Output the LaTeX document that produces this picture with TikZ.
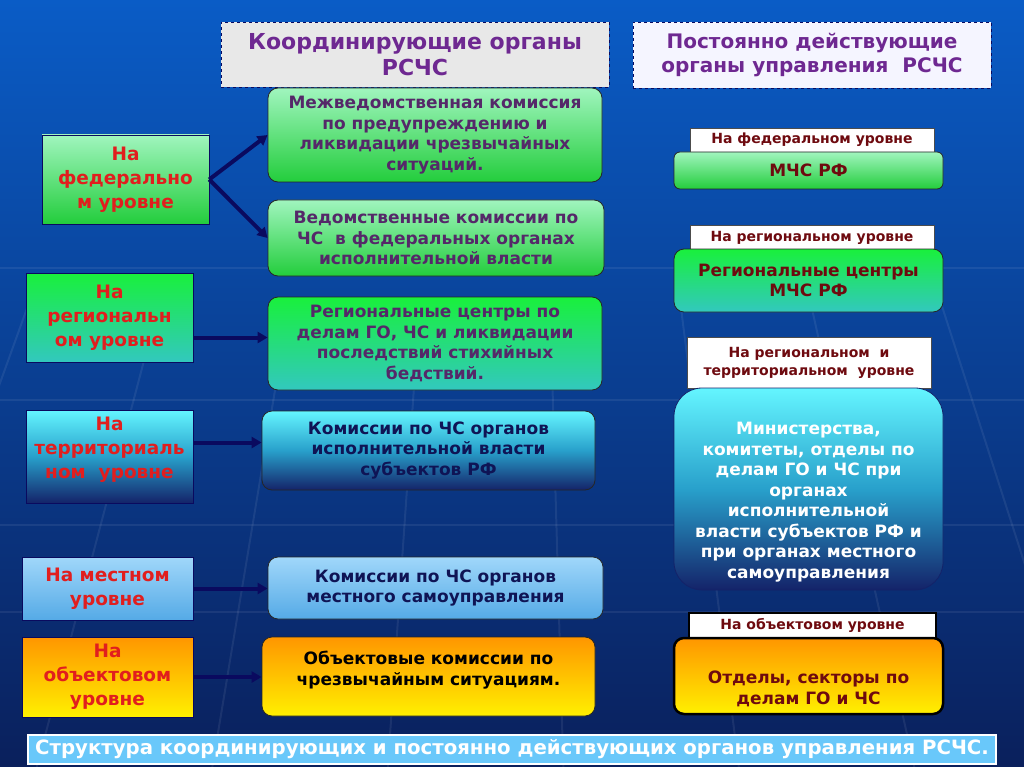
\documentclass[tikz,border=0pt]{standalone}
\usepackage{fontspec}
\setmainfont{DejaVu Sans}
\usetikzlibrary{arrows.meta}
\definecolor{lvlred}{RGB}{225,30,30}
\definecolor{orgpurple}{RGB}{85,40,105}
\definecolor{navytext}{RGB}{15,20,85}
\definecolor{tagred}{RGB}{110,10,15}
\definecolor{headpurple}{RGB}{110,40,145}
\definecolor{arrowblue}{RGB}{10,10,95}
\definecolor{mint}{RGB}{160,245,190}
\definecolor{leaf}{RGB}{35,205,60}
\definecolor{lime}{RGB}{25,240,60}
\definecolor{teal}{RGB}{50,200,190}
\definecolor{aqua}{RGB}{100,245,255}
\definecolor{deepblue}{RGB}{20,35,105}
\definecolor{skyA}{RGB}{160,215,250}
\definecolor{skyB}{RGB}{85,170,230}
\definecolor{amber}{RGB}{255,150,0}
\definecolor{sun}{RGB}{255,240,0}
\definecolor{banner}{RGB}{105,200,250}

\begin{document}
\begin{tikzpicture}[x=1pt, y=-1pt,
    level/.style={draw=arrowblue, thin, align=center, text=lvlred, inner sep=1pt,
                  font=\fontsize{18.5}{24}\selectfont\bfseries},
    organ/.style={draw=black!85, thick, rounded corners=10pt, align=center, inner sep=2pt,
                  font=\fontsize{17}{20.5}\selectfont\bfseries},
    tag/.style={draw=black!70, fill=white, align=center, text=tagred, inner sep=1pt,
                font=\fontsize{14}{18}\selectfont\bfseries},
    head/.style={draw=arrowblue, dashed, align=center, text=headpurple,
                 font=\fontsize{22}{26}\selectfont\bfseries},
    greenish/.style={top color=mint, bottom color=leaf},
    limeteal/.style={top color=lime, bottom color=teal},
    aquadeep/.style={top color=aqua, bottom color=deepblue, middle color=teal!80!blue},
    skyish/.style={top color=skyA, bottom color=skyB},
    sunny/.style={top color=amber, bottom color=sun},
    link/.style={-{Triangle[length=10pt,width=11pt]}, line width=4pt, color=arrowblue}
]
\useasboundingbox (0,0) rectangle (1024,767);
% background
\shade[top color={rgb,255:red,10;green,92;blue,198}, middle color={rgb,255:red,12;green,72;blue,165},
       bottom color={rgb,255:red,10;green,32;blue,92}] (0,0) rectangle (1024,767);
\begin{scope}
\clip (0,0) rectangle (1024,767);
\foreach \gy in {268,400,525,612}
  \draw[white, opacity=0.07, line width=2pt] (0,\gy) -- (1024,\gy);
\foreach \gx in {30,160,290,420,550,680,810,940}
  \draw[white, opacity=0.07, line width=2pt] (\gx,300) -- ({\gx+(\gx-512)*0.35},767);
\end{scope}

% headers
\node[head, fill=gray!18, minimum width=388, minimum height=65] (hcoord) at (415,54.5)
  {Координирующие органы\\РСЧС};
\node[head, fill=blue!4, minimum width=358, minimum height=66,
      font=\fontsize{20}{24}\selectfont\bfseries] (hperm) at (812,55)
  {Постоянно действующие\\органы управления~~РСЧС};

% levels
\node[level, greenish, minimum width=167, minimum height=89] (fed) at (125.5,179.5)
  {На\\федерально\\м уровне};
\node[level, limeteal, minimum width=167, minimum height=89] (reg) at (109.5,317.5)
  {На\\региональн\\ом уровне};
\node[level, aquadeep, minimum width=167, minimum height=93] (ter) at (109.5,456.5)
  {На\\территориаль\\ном~~уровне\\[-6pt]\mbox{}};
\node[level, skyish, minimum width=171, minimum height=63] (loc) at (107.5,588.5)
  {На местном\\уровне};
\node[level, sunny, minimum width=171, minimum height=80] (obj) at (107.5,677)
  {На\\объектовом\\уровне};

% coordinating bodies
\node[organ, greenish, text=orgpurple, minimum width=334, minimum height=94] (mvk) at (435,135)
  {Межведомственная комиссия\\по предупреждению и\\ликвидации чрезвычайных\\ситуаций.};
\node[organ, greenish, text=orgpurple, minimum width=336, minimum height=76] (vk) at (436,238)
  {Ведомственные комиссии по\\ЧС~~в федеральных органах\\исполнительной власти};
\node[organ, limeteal, text=orgpurple, minimum width=334, minimum height=93] (rc) at (435,343.5)
  {Региональные центры по\\делам ГО, ЧС и ликвидации\\последствий стихийных\\бедствий.};
\node[organ, aquadeep, text=navytext, minimum width=333, minimum height=79] (kse) at (428.5,450.5)
  {Комиссии по ЧС органов\\исполнительной власти\\субъектов РФ};
\node[organ, skyish, text=navytext, minimum width=335, minimum height=62] (ksm) at (435.5,588)
  {Комиссии по ЧС органов\\местного самоуправления};
\node[organ, sunny, text=black, minimum width=333, minimum height=79] (oks) at (428.5,676.5)
  {Объектовые комиссии по\\чрезвычайным ситуациям.\\[-4pt]\mbox{}};

\draw[link] (fed.east) -- (mvk.west);
\draw[link] (fed.east) -- (vk.west);
\draw[link] ([yshift=-20pt]reg.east) -- ([yshift=-20pt]reg.east -| rc.west);
\draw[link] ([yshift=14pt]ter.east) -- ([yshift=14pt]ter.east -| kse.west);
\draw[link] (loc.east) -- (loc.east -| ksm.west);
\draw[link] (obj.east) -- (obj.east -| oks.west);

% permanent bodies
\node[tag, minimum width=244, minimum height=24] (tfed) at (812,140) {На федеральном уровне};
\node[organ, greenish, text=tagred, rounded corners=6pt, minimum width=269, minimum height=37]
  (mchs) at (808.5,170.5) {МЧС РФ};
\node[tag, minimum width=244, minimum height=25] (treg) at (812,237.5) {На региональном уровне};
\node[organ, limeteal, text=tagred, minimum width=269, minimum height=63] (rcm) at (808.5,280.5)
  {Региональные центры\\МЧС РФ};
\node[tag, minimum width=244, minimum height=51] (tter) at (809,362.5)
  {На региональном~~и\\территориальном~~уровне};
\node[organ, aquadeep, draw=deepblue, text=white, rounded corners=28pt, minimum width=269,
      minimum height=202] (min) at (808.5,489)
  {\mbox{}\\[18pt]Министерства,\\комитеты, отделы по\\делам ГО и ЧС при\\органах\\исполнительной\\власти субъектов РФ и\\при органах местного\\самоуправления};
\node[tag, draw=black, line width=2.5pt, minimum width=247, minimum height=25] (tobj) at (812.5,625.5)
  {На объектовом уровне};
\node[organ, sunny, draw=black, line width=2.5pt, text=tagred, minimum width=269, minimum height=76]
  (ots) at (808.5,676)
  {\mbox{}\\[18pt]Отделы, секторы по\\делам ГО и ЧС};

% caption
\node[draw=white, line width=1.5pt, fill=banner, text=white, minimum width=968, minimum height=29,
      inner sep=0pt, font=\fontsize{19.7}{22}\selectfont\bfseries] (cap) at (512,749.5)
  {Структура координирующих и постоянно действующих органов управления РСЧС.};
\end{tikzpicture}
\end{document}
